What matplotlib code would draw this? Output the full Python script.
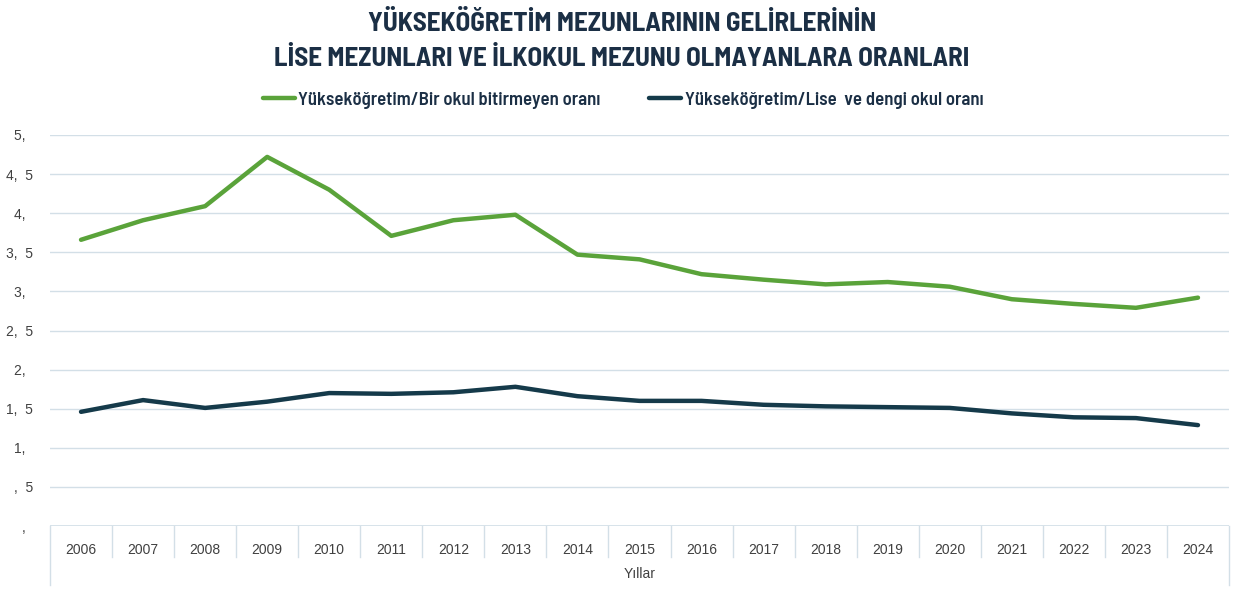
import matplotlib
matplotlib.use("Agg")
import matplotlib.pyplot as plt
import matplotlib.transforms as mtransforms

years = [str(y) for y in range(2006, 2025)]
green_vals = [3.66, 3.91, 4.09, 4.72, 4.30, 3.71, 3.91, 3.98, 3.47, 3.41,
              3.22, 3.15, 3.09, 3.12, 3.06, 2.90, 2.84, 2.79, 2.92]
dark_vals = [1.46, 1.61, 1.51, 1.59, 1.70, 1.69, 1.71, 1.78, 1.66, 1.60,
             1.60, 1.55, 1.53, 1.52, 1.51, 1.44, 1.39, 1.38, 1.29]
series_names = ["Yükseköğretim/Bir okul bitirmeyen oranı",
                "Yükseköğretim/Lise  ve dengi okul oranı"]
ytick_vals = [0, 0.5, 1, 1.5, 2, 2.5, 3, 3.5, 4, 4.5, 5]
ytick_labels = [",  ", ",  5", "1,  ", "1,  5", "2,  ", "2,  5", "3,  ", "3,  5",
                "4,  ", "4,  5", "5,  "]
title_lines = ["YÜKSEKÖĞRETİM MEZUNLARININ GELİRLERİNİN",
               "LİSE MEZUNLARI VE İLKOKUL MEZUNU OLMAYANLARA ORANLARI"]
xlabel = "Yıllar"

cond_family = ['Barlow Semi Condensed', 'DejaVu Sans']
plain_family = ['Liberation Sans', 'DejaVu Sans']

GREEN = "#5aa33a"
DARK = "#153a4a"
TITLE_C = "#1b2f45"
GRID = "#d3dfe7"
TXT = "#404040"

W, H = 1244, 591
fig = plt.figure(figsize=(W / 100, H / 100), dpi=100)
left, right, top, bottom = 50, 1229, 135, 526
ax = fig.add_axes([left / W, 1 - bottom / H, (right - left) / W, (bottom - top) / H])

x = list(range(len(years)))
ax.plot(x, green_vals, color=GREEN, lw=3.2, solid_capstyle='round', solid_joinstyle='round',
        label=series_names[0], zorder=3)
ax.plot(x, dark_vals, color=DARK, lw=3.2, solid_capstyle='round', solid_joinstyle='round',
        label=series_names[1], zorder=3)

ax.set_xlim(-0.5, len(years) - 0.5)
ax.set_ylim(0, 5)
ax.set_yticks(ytick_vals)
ax.set_yticklabels(ytick_labels, family=plain_family, fontsize=10, color=TXT)
ax.tick_params(axis='y', length=0, pad=12)
ax.set_xticks(x)
ax.set_xticklabels(years, family=plain_family, fontsize=10, color=TXT)
ax.tick_params(axis='x', length=0, pad=12)
for s in ax.spines.values():
    s.set_visible(False)
ax.grid(axis='y', color=GRID, lw=1)
ax.set_axisbelow(True)
ax.axhline(0, color=GRID, lw=1.2, zorder=1)

# category separators below the axis
trans = mtransforms.blended_transform_factory(ax.transData, ax.transAxes)
ax_h = bottom - top
for i in range(len(years) + 1):
    xb = i - 0.5
    if i == 0 or i == len(years):
        y1 = -(585 - bottom) / ax_h
    else:
        y1 = -(557 - bottom) / ax_h
    ax.plot([xb, xb], [0, y1], transform=trans, color=GRID, lw=1, clip_on=False)

fig.text((left + right) / 2 / W, 1 - 574 / H, xlabel, ha='center', va='center',
         fontsize=10, color=TXT, family=plain_family)

for k, line in enumerate(title_lines):
    fig.text(622 / W, 1 - (23.5 + 35 * k) / H, line, ha='center', va='center', fontsize=19.5,
             fontweight='bold', color=TITLE_C, family=cond_family)

leg = fig.legend(loc='center', bbox_to_anchor=(623 / W, 1 - 100 / H), ncol=2, frameon=False,
                 prop={'family': cond_family, 'weight': 'semibold', 'size': 13.5},
                 handlelength=1.7, handletextpad=0.2, columnspacing=2.6)
for t in leg.get_texts():
    t.set_color(TITLE_C)

fig.savefig("out.png", dpi=100)
